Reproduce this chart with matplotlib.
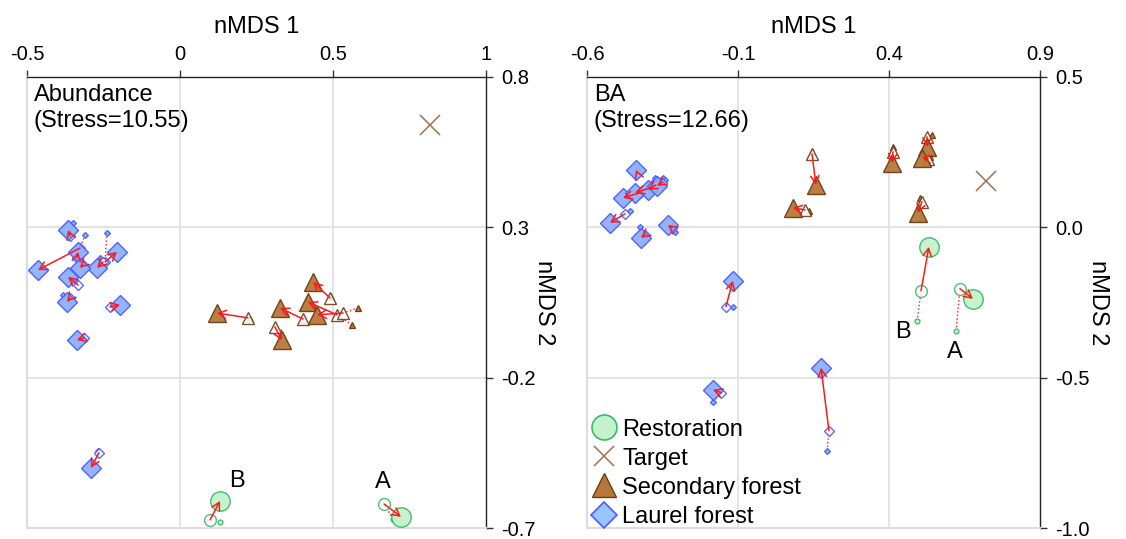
import matplotlib
matplotlib.use("Agg")
import matplotlib.pyplot as plt
from matplotlib.lines import Line2D

plt.rcParams['font.family'] = ['Liberation Sans', 'DejaVu Sans']

# ---------------- data: Abundance panel ----------------
# each site: tiny (first survey), medium hollow (second), large filled (last)
ab_laurel_t = [(-0.350, 0.314), (-0.310, 0.275), (-0.327, 0.225), (-0.239, 0.281), (-0.261, 0.198),
               (-0.343, 0.125), (-0.320, 0.185), (-0.382, 0.075), (-0.219, 0.038), (-0.320, -0.065),
               (-0.268, -0.444)]
ab_laurel_m = [(-0.359, 0.271), (-0.327, 0.231), (-0.337, 0.198), (-0.245, 0.185), (-0.252, 0.185),
               (-0.333, 0.108), (-0.317, 0.175), (-0.359, 0.065), (-0.229, 0.035), (-0.314, -0.068),
               (-0.265, -0.450)]
ab_laurel_L = [(-0.366, 0.291), (-0.464, 0.158), (-0.333, 0.218), (-0.206, 0.218), (-0.271, 0.165),
               (-0.366, 0.135), (-0.327, 0.165), (-0.369, 0.052), (-0.196, 0.042), (-0.337, -0.075),
               (-0.291, -0.500)]

ab_second_t = [(0.229, -0.005), (0.402, -0.008), (0.493, 0.068), (0.562, -0.025), (0.582, 0.032), (0.310, -0.028)]
ab_second_m = [(0.222, -0.001), (0.402, -0.005), (0.490, 0.065), (0.513, 0.009), (0.533, 0.015), (0.310, -0.031)]
ab_second_L = [(0.121, 0.015), (0.327, 0.032), (0.435, 0.118), (0.418, 0.052), (0.448, 0.009), (0.333, -0.075)]

ab_rest_t = [(0.696, -0.670), (0.131, -0.680)]
ab_rest_m = [(0.667, -0.620), (0.098, -0.673)]
ab_rest_L = [(0.722, -0.663), (0.131, -0.610)]
ab_rest_labels = ["A", "B"]
ab_rest_label_pos = [(0.663, -0.547), (0.186, -0.543)]

ab_target = (0.817, 0.640)

# ---------------- data: BA panel ----------------
ba_laurel_t = [(-0.117, -0.264), (-0.183, -0.580), (0.195, -0.743), (-0.431, 0.198), (-0.375, 0.164),
               (-0.365, 0.158), (-0.348, 0.164), (-0.342, 0.158), (-0.458, 0.055), (-0.425, 0.000),
               (-0.309, -0.015)]
ba_laurel_m = [(-0.140, -0.264), (-0.156, -0.550), (0.201, -0.676), (-0.434, 0.181), (-0.425, 0.115),
               (-0.391, 0.131), (-0.372, 0.141), (-0.352, 0.148), (-0.474, 0.045), (-0.408, -0.025),
               (-0.319, -0.002)]
ba_laurel_L = [(-0.117, -0.178), (-0.183, -0.540), (0.175, -0.467), (-0.438, 0.191), (-0.481, 0.098),
               (-0.441, 0.115), (-0.398, 0.125), (-0.368, 0.138), (-0.524, 0.015), (-0.421, -0.035),
               (-0.332, 0.008)]

ba_second_t = [(0.145, 0.251), (0.135, 0.055), (0.413, 0.267), (0.542, 0.307), (0.536, 0.234), (0.503, 0.098)]
ba_second_m = [(0.145, 0.244), (0.122, 0.058), (0.413, 0.251), (0.526, 0.301), (0.529, 0.228), (0.509, 0.085)]
ba_second_L = [(0.158, 0.141), (0.082, 0.065), (0.410, 0.214), (0.526, 0.267), (0.509, 0.231), (0.496, 0.048)]

ba_rest_t = [(0.622, -0.344), (0.493, -0.311)]
ba_rest_m = [(0.635, -0.204), (0.506, -0.211)]
ba_rest_L = [(0.678, -0.238), (0.532, -0.065)]
ba_rest_labels = ["A", "B"]
ba_rest_label_pos = [(0.619, -0.414), (0.446, -0.347)]

ba_target = (0.721, 0.154)

# ---------------- styles ----------------
REST = dict(face='#c4f2cc', edge='#3cb96a', marker='o', sL=14, sM=8.5, sT=3.5)
LAUR = dict(face='#8fb0ff', edge='#4a5cff', marker='D', sL=10, sM=5.5, sT=3.0)
SECO = dict(face='#b8773a', edge='#6b3f14', marker='^', sL=13, sM=8, sT=4.5)
TARGET_C = '#a0704c'
ARROW_C = '#ff1a1a'

W, H = 1126, 539
fig = plt.figure(figsize=(W / 100, H / 100), dpi=100)
ax1 = fig.add_axes([27 / W, 1 - 528 / H, 459 / W, 451 / H])
ax2 = fig.add_axes([587 / W, 1 - 528 / H, 453 / W, 451 / H])


def draw_group(ax, T, M, L, st):
    for (t, m, l) in zip(T, M, L):
        ax.plot([t[0], m[0]], [t[1], m[1]], color=ARROW_C, lw=1.0, ls=':', zorder=2)
        ax.plot(*t, marker=st['marker'], ms=st['sT'], mfc=st['face'], mec=st['edge'], mew=0.9,
                ls='none', zorder=3)
        ax.plot(*m, marker=st['marker'], ms=st['sM'], mfc='white', mec=st['edge'], mew=1.0,
                ls='none', zorder=3, alpha=0.9)
        ax.plot(*l, marker=st['marker'], ms=st['sL'], mfc=st['face'], mec=st['edge'], mew=1.0,
                ls='none', zorder=4, alpha=0.95)
    for (m, l) in zip(M, L):
        ax.annotate('', xy=l, xytext=m,
                    arrowprops=dict(arrowstyle='->,head_length=0.55,head_width=0.3',
                                    color=ARROW_C, lw=1.1, shrinkA=0, shrinkB=0),
                    zorder=5)


def setup(ax, xlim, ylim, xt, xtl, yt, ytl, title):
    ax.set_xlim(*xlim)
    ax.set_ylim(*ylim)
    ax.xaxis.tick_top()
    ax.xaxis.set_label_position('top')
    ax.yaxis.tick_right()
    ax.yaxis.set_label_position('right')
    ax.set_xticks(xt)
    ax.set_xticklabels(xtl)
    ax.set_yticks(yt)
    ax.set_yticklabels(ytl)
    ax.tick_params(axis='both', direction='out', length=5, width=1, labelsize=14.5, pad=4, color='#333333')
    ax.tick_params(axis='y', pad=6)
    for s in ['top', 'right']:
        ax.spines[s].set_color('#222222')
        ax.spines[s].set_linewidth(1.0)
    for s in ['left', 'bottom']:
        ax.spines[s].set_color('#dddddd')
        ax.spines[s].set_linewidth(1.5)
    for v in xt[1:-1]:
        ax.axvline(v, color='#e2e2e2', lw=1.3, zorder=0)
    for v in yt[1:-1]:
        ax.axhline(v, color='#e2e2e2', lw=1.3, zorder=0)
    ax.set_xlabel('nMDS 1', fontsize=17, labelpad=9)
    ax.set_ylabel('nMDS 2', fontsize=17, rotation=270, labelpad=14)
    ax.text(0.015, 0.985, title, transform=ax.transAxes, ha='left', va='top', fontsize=17,
            linespacing=1.25)


# ---- left panel ----
setup(ax1, (-0.5, 1.0), (-0.7, 0.8), [-0.5, 0, 0.5, 1.0], ['-0.5', '0', '0.5', '1'],
      [0.8, 0.3, -0.2, -0.7], ['0.8', '0.3', '-0.2', '-0.7'], 'Abundance\n(Stress=10.55)')
draw_group(ax1, ab_laurel_t, ab_laurel_m, ab_laurel_L, LAUR)
draw_group(ax1, ab_second_t, ab_second_m, ab_second_L, SECO)
draw_group(ax1, ab_rest_t, ab_rest_m, ab_rest_L, REST)
ax1.plot(*ab_target, marker='x', ms=14, mew=1.1, color=TARGET_C, ls='none')
for lab, pos in zip(ab_rest_labels, ab_rest_label_pos):
    ax1.text(pos[0], pos[1], lab, fontsize=17, ha='center', va='center')

# ---- right panel ----
setup(ax2, (-0.6, 0.9), (-1.0, 0.5), [-0.6, -0.1, 0.4, 0.9], ['-0.6', '-0.1', '0.4', '0.9'],
      [0.5, 0.0, -0.5, -1.0], ['0.5', '0.0', '-0.5', '-1.0'], 'BA\n(Stress=12.66)')
draw_group(ax2, ba_laurel_t, ba_laurel_m, ba_laurel_L, LAUR)
draw_group(ax2, ba_second_t, ba_second_m, ba_second_L, SECO)
draw_group(ax2, ba_rest_t, ba_rest_m, ba_rest_L, REST)
ax2.plot(*ba_target, marker='x', ms=14, mew=1.1, color=TARGET_C, ls='none')
for lab, pos in zip(ba_rest_labels, ba_rest_label_pos):
    ax2.text(pos[0], pos[1], lab, fontsize=17, ha='center', va='center')

handles = [
    Line2D([], [], marker='o', ms=18, mfc=REST['face'], mec=REST['edge'], mew=1.2, ls='none'),
    Line2D([], [], marker='x', ms=15, mew=1.1, color=TARGET_C, ls='none'),
    Line2D([], [], marker='^', ms=17, mfc=SECO['face'], mec=SECO['edge'], mew=1.0, ls='none'),
    Line2D([], [], marker='D', ms=13, mfc='#99c4ff', mec=LAUR['edge'], mew=1.2, ls='none'),
]
labels = ['Restoration', 'Target', 'Secondary forest', 'Laurel forest']
ax2.legend(handles, labels, loc='lower left', bbox_to_anchor=(0.0, -0.01), frameon=False,
           fontsize=17, handlelength=1.0, handletextpad=0.3, labelspacing=0.3, borderpad=0.2,
           borderaxespad=0.0)

fig.savefig('out.png', dpi=100)
